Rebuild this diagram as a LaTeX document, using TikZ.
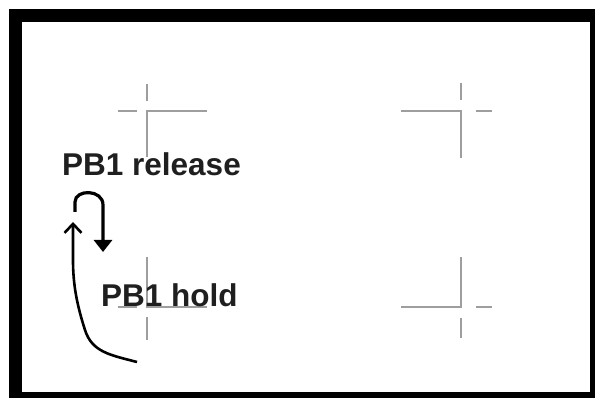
\documentclass[tikz,border=0pt]{standalone}
\usepackage{fontspec}
\setmainfont{Liberation Sans}
\usetikzlibrary{arrows.meta,positioning}
\tikzset{
  frame/.style={draw=black, line width=13pt},
  cropline/.style={draw=black!38, line width=2.5pt},
  tag/.style={font=\bfseries\fontsize{31.5}{36}\selectfont, text=black!88,
              inner sep=0pt, anchor=base west},
  loopflow/.style={-{Triangle[length=12pt,width=18pt]}, line width=3.2pt},
  backflow/.style={-{Straight Barb[length=9pt,width=17pt]}, line width=2.6pt},
}
\begin{document}
\begin{tikzpicture}[x=1pt, y=-1pt]
\useasboundingbox (0,0) rectangle (595,398);
\clip (0,0) rectangle (595,398);
\draw[frame] (15.5,16) rectangle (596,398.5);

% corner marks
\draw[cropline] (147,157) -- (147,111) -- (207,111);
\draw[cropline] (118,111) -- (137,111) (147,84) -- (147,101);
\draw[cropline] (401,111) -- (461,111) -- (461,158);
\draw[cropline] (476,111) -- (492,111) (461,83) -- (461,100);
\draw[cropline] (147,257) -- (147,307) -- (207,307);
\draw[cropline] (118,307) -- (137,307) (147,317) -- (147,340);
\draw[cropline] (401,307) -- (461,307) -- (461,257);
\draw[cropline] (476,307) -- (492,307) (461,318) -- (461,338);

% labels
\node[tag] (release) at (62,176) {PB1 release};
\node[tag] (hold) at (101,307) {PB1 hold};

% arrows
\coordinate (loopstart) at (75,212);
\coordinate (loopend) at (103,252);
\coordinate (backstart) at (137,362);
\coordinate (backend) at (73,222);
\draw[loopflow] (loopstart) -- (75,202) .. controls (75,189) and (103,189) .. (103,205) -- (loopend);
\draw[backflow] (backstart) .. controls (110,355) and (92,352) .. (85,330)
  .. controls (77,305) and (73,285) .. (73,260) -- (backend);
\end{tikzpicture}
\end{document}
